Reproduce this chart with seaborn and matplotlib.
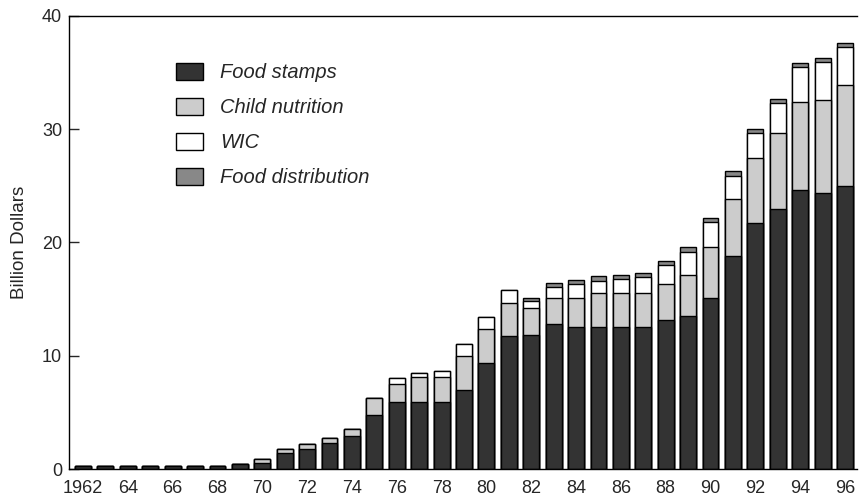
import matplotlib
matplotlib.use("Agg")
import matplotlib.pyplot as plt
import seaborn as sns
import pandas as pd
import numpy as np
from matplotlib.patches import Patch

years = list(range(1962, 1997))
food_stamps = [0.3, 0.3, 0.3, 0.3, 0.3, 0.3, 0.3, 0.4, 0.55, 1.4, 1.8, 2.3, 2.9, 4.8,
               5.9, 5.9, 5.9, 7.0, 9.4, 11.7, 11.8, 12.8, 12.5, 12.5, 12.5, 12.5, 13.2,
               13.5, 15.1, 18.8, 21.7, 23.0, 24.6, 24.4, 25.0]
child_nutrition = [0, 0, 0, 0, 0, 0, 0, 0, 0.35, 0.4, 0.45, 0.4, 0.65, 1.5,
                   1.6, 2.2, 2.2, 3.0, 3.0, 3.0, 2.4, 2.3, 2.6, 3.0, 3.0, 3.0, 3.1,
                   3.6, 4.5, 5.0, 5.8, 6.7, 7.8, 8.2, 8.9]
wic = [0, 0, 0, 0, 0, 0, 0, 0, 0, 0, 0, 0, 0, 0,
       0.5, 0.35, 0.55, 1.0, 1.0, 1.1, 0.6, 1.0, 1.2, 1.1, 1.3, 1.45, 1.7,
       2.1, 2.2, 2.1, 2.15, 2.6, 3.1, 3.3, 3.35]
food_distribution = [0, 0, 0, 0, 0, 0, 0, 0, 0, 0, 0, 0, 0, 0,
                     0, 0, 0, 0, 0, 0, 0.27, 0.3, 0.4, 0.4, 0.35, 0.35, 0.4,
                     0.4, 0.35, 0.4, 0.35, 0.4, 0.35, 0.4, 0.35]
series_names = ["Food stamps", "Child nutrition", "WIC", "Food distribution"]
series_colors = ["#333333", "#cccccc", "#ffffff", "#888888"]
tick_labels = ["1962"] + [str(y % 100) for y in range(1964, 1997, 2)]

sns.set_style("white")
plt.rcParams["font.family"] = ["Liberation Sans", "DejaVu Sans"]

df = pd.DataFrame({"year": [str(y) for y in years],
                   "fs": food_stamps, "cn": child_nutrition,
                   "wic": wic, "fd": food_distribution})
df["c1"] = df["fs"]
df["c2"] = df["c1"] + df["cn"]
df["c3"] = df["c2"] + df["wic"]
df["c4"] = df["c3"] + df["fd"]

fig = plt.figure(figsize=(8.6, 4.98), dpi=100)
ax = fig.add_axes([69 / 860, 1 - 469 / 498, (857 - 69) / 860, (469 - 16) / 498])

for col, color in zip(["c4", "c3", "c2", "c1"], series_colors[::-1]):
    sns.barplot(data=df, x="year", y=col, color=color, saturation=1, width=0.71,
                edgecolor="black", linewidth=1.0, ax=ax, errorbar=None)

ax.set_xlim(-0.625, 34.535)
ax.set_ylim(0, 40)
ax.set_xticks(np.arange(0, 35, 2))
ax.set_xticklabels(tick_labels)
ax.set_yticks([0, 10, 20, 30, 40])
ax.tick_params(axis="x", length=0, pad=8, labelsize=13)
ax.tick_params(axis="y", direction="in", length=7, width=1, pad=5, labelsize=13, left=True)
ax.set_xlabel("")
ax.set_ylabel("Billion Dollars", fontsize=13.5, labelpad=10)

for s in ["left", "top", "bottom"]:
    ax.spines[s].set_visible(True)
    ax.spines[s].set_color("black")
    ax.spines[s].set_linewidth(1.0)
ax.spines["right"].set_visible(False)

handles = [Patch(facecolor=c, edgecolor="black", linewidth=1.0) for c in series_colors]
leg = ax.legend(handles, series_names, loc="upper left", bbox_to_anchor=(0.136, 0.896),
                frameon=False, prop={"style": "italic", "size": 14.5},
                borderpad=0, borderaxespad=0,
                handlelength=1.35, handleheight=0.9, handletextpad=0.85, labelspacing=0.78)

fig.savefig("out.png", dpi=100)
